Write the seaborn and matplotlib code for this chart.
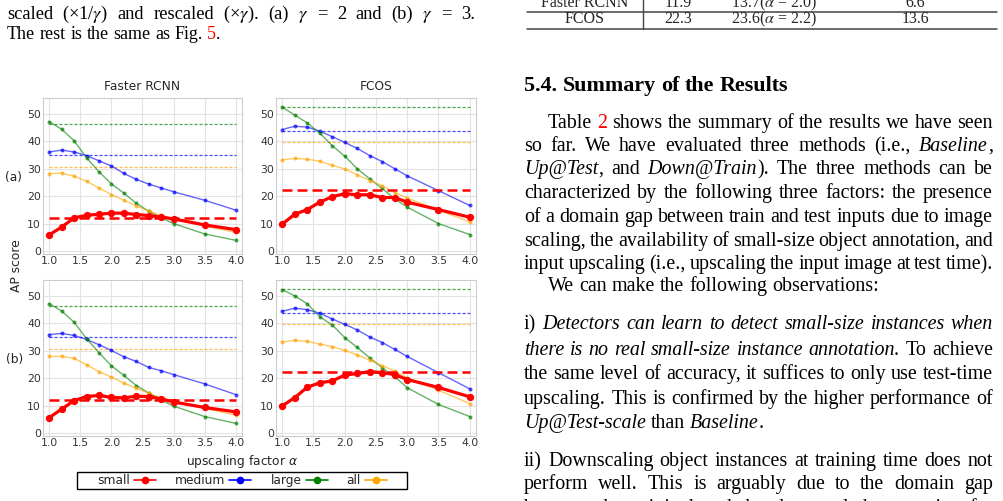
import matplotlib
matplotlib.use("Agg")
import matplotlib.pyplot as plt
import seaborn as sns
from matplotlib.lines import Line2D
from matplotlib.patches import Rectangle

# ---- data (AP score vs upscaling factor alpha) ----
alphas = [1.0, 1.2, 1.4, 1.6, 1.8, 2.0, 2.2, 2.4, 2.6, 2.8, 3.0, 3.5, 4.0]
sizes = ["small", "medium", "large", "all"]
colors = ["red", "blue", "green", "orange"]

# (a) gamma = 2
frcnn_a_small = [5.9, 8.7, 12.1, 13.0, 13.4, 13.8, 13.8, 13.3, 12.9, 12.4, 11.7, 9.5, 7.8]
frcnn_a_medium = [36.1, 36.8, 36.1, 34.8, 32.9, 31.0, 28.3, 26.1, 24.4, 23.0, 21.6, 18.5, 14.9]
frcnn_a_large = [47.2, 44.4, 40.2, 34.0, 28.9, 24.5, 21.1, 17.4, 14.5, 12.1, 10.0, 6.2, 3.9]
frcnn_a_all = [28.2, 28.4, 27.3, 25.4, 23.0, 20.6, 18.5, 16.5, 14.6, 13.0, 11.5, 9.1, 6.8]

fcos_a_small = [9.8, 13.4, 15.1, 17.8, 19.8, 20.9, 20.5, 20.5, 19.5, 19.5, 17.8, 15.1, 12.3]
fcos_a_medium = [44.3, 45.5, 45.2, 43.7, 41.7, 39.6, 37.4, 34.8, 32.6, 30.0, 27.4, 22.0, 16.6]
fcos_a_large = [52.4, 49.6, 46.7, 43.0, 38.4, 34.6, 30.0, 26.3, 22.8, 19.0, 16.0, 10.0, 6.0]
fcos_a_all = [33.2, 33.8, 33.5, 32.7, 31.3, 29.9, 27.8, 25.7, 23.8, 21.3, 19.3, 14.9, 10.6]

# (b) gamma = 3
frcnn_b_small = [5.6, 8.7, 11.8, 13.3, 13.7, 13.0, 12.8, 13.4, 13.3, 12.4, 11.3, 9.3, 7.7]
frcnn_b_medium = [35.9, 36.3, 35.6, 34.1, 32.2, 30.1, 27.8, 26.1, 23.9, 22.7, 21.3, 17.9, 14.0]
frcnn_b_large = [47.2, 44.5, 40.4, 34.4, 29.3, 24.5, 21.0, 17.3, 14.6, 12.0, 9.8, 6.0, 3.5]
frcnn_b_all = [27.9, 28.0, 27.2, 24.9, 22.4, 20.4, 18.2, 16.3, 14.5, 12.9, 11.8, 9.0, 6.5]

fcos_b_small = [9.9, 12.9, 16.7, 18.3, 19.0, 21.1, 21.7, 22.4, 22.0, 21.3, 19.5, 16.6, 13.2]
fcos_b_medium = [44.4, 45.5, 45.0, 43.7, 41.6, 39.6, 37.6, 35.0, 33.0, 30.5, 27.9, 22.0, 16.1]
fcos_b_large = [52.3, 50.0, 47.1, 42.4, 39.4, 34.8, 31.2, 27.4, 23.8, 20.5, 16.5, 10.4, 6.0]
fcos_b_all = [33.2, 33.8, 33.4, 32.4, 31.5, 30.1, 28.5, 26.6, 24.6, 22.6, 20.1, 15.6, 10.7]

# baselines (no upscaling), small / medium / large / all
frcnn_base = [11.9, 35.0, 46.3, 30.6]
fcos_base = [22.3, 43.8, 52.6, 39.9]

xtick_vals = [1.0, 1.5, 2.0, 2.5, 3.0, 3.5, 4.0]
ytick_vals = [0, 10, 20, 30, 40, 50]

panels = [
    ("Faster RCNN", [frcnn_a_small, frcnn_a_medium, frcnn_a_large, frcnn_a_all], frcnn_base),
    ("FCOS", [fcos_a_small, fcos_a_medium, fcos_a_large, fcos_a_all], fcos_base),
    ("", [frcnn_b_small, frcnn_b_medium, frcnn_b_large, frcnn_b_all], frcnn_base),
    ("", [fcos_b_small, fcos_b_medium, fcos_b_large, fcos_b_all], fcos_base),
]

sns.set_style("whitegrid", {"axes.edgecolor": "#cccccc", "grid.color": "#e3e3e3"})
plt.rcParams["font.family"] = ["DejaVu Sans"]

W, H = 1004, 501
fig = plt.figure(figsize=(W / 100, H / 100), dpi=100)


def fx(px):
    return px / W


def fy(py):
    return 1 - py / H


boxes = [(43, 98, 199, 156), (276, 98, 200, 156), (43, 280, 199, 156), (276, 280, 200, 156)]
for (title, series, base), (l, t, w, h) in zip(panels, boxes):
    ax = fig.add_axes([fx(l), fy(t + h), w / W, h / H])
    for i, (vals, col) in enumerate(zip(series, colors)):
        if i == 0:
            sns.lineplot(x=alphas, y=vals, color=col, lw=2.3, marker="o", ms=4.5,
                         mec=col, ax=ax, zorder=5)
            sns.lineplot(x=[alphas[0], alphas[-1]], y=[base[i]] * 2, color=col, lw=1.8,
                         dashes=(4, 2), ax=ax, zorder=4)
        else:
            sns.lineplot(x=alphas, y=vals, color=col, lw=1.0, marker="o", ms=2.2,
                         mec=col, alpha=0.6, ax=ax, zorder=3)
            l2 = sns.lineplot(x=[alphas[0], alphas[-1]], y=[base[i]] * 2, color=col, lw=0.9,
                              alpha=0.7, ax=ax, zorder=2)
            l2.lines[-1].set_dashes((2.5, 1.5))
    ax.set_xlim(0.9, 4.1)
    ax.set_ylim(-1.1, 55.8)
    ax.set_xticks(xtick_vals)
    ax.set_xticklabels([f"{v:.1f}" for v in xtick_vals])
    ax.set_yticks(ytick_vals)
    ax.tick_params(labelsize=7.8, pad=1.5, colors="#333333", length=0)
    ax.grid(True, lw=0.8)
    for sp in ax.spines.values():
        sp.set_linewidth(0.8)
    if title:
        ax.set_title(title, fontsize=8.8, pad=6)

fig.text(fx(13), fy(177), "(a)", fontsize=8.8, ha="center", va="center")
fig.text(fx(15), fy(360), "(b)", fontsize=8.8, ha="center", va="center")
fig.text(fx(17), fy(266), "AP score", fontsize=8.8, rotation=90, ha="center", va="center")
fig.text(fx(242), fy(461), r"upscaling factor $\alpha$", fontsize=8.8, ha="center", va="center")

handles = [Line2D([], [], color=c, marker="o", ms=4.5, lw=1.2) for c in colors]
fig.legend(handles, sizes, loc="center", bbox_to_anchor=(fx(242), fy(480.5)), ncol=4,
           markerfirst=False, fontsize=8.8, frameon=False, handlelength=1.8,
           handletextpad=0.35, columnspacing=1.55, borderpad=0.1)
fig.add_artist(Rectangle((fx(77), fy(489)), 330 / W, 17 / H, transform=fig.transFigure,
                         fill=False, edgecolor="black", lw=1.0))

# ---- surrounding page text ----
renderer = fig.canvas.get_renderer()
SERIF = "Liberation Serif"


def draw_line(x0, yc, line, width=None, fs=14.4, weight="normal"):
    words = []
    ital, red = False, False
    for raw in line.split():
        pieces, buf = [], ""
        for ch in raw:
            if ch in "*{}":
                if buf:
                    pieces.append((buf, ital, red))
                    buf = ""
                if ch == "*":
                    ital = not ital
                else:
                    red = ch == "{"
            else:
                buf += ch
        if buf:
            pieces.append((buf, ital, red))
        words.append(pieces)
    items, widths = [], []
    for pieces in words:
        ww = 0
        arts = []
        for txt, it, rd in pieces:
            a = fig.text(0, 0, txt, fontsize=fs, family=SERIF, weight=weight,
                         style="italic" if it else "normal", color="red" if rd else "black",
                         va="baseline", ha="left", math_fontfamily="stix")
            bw = a.get_window_extent(renderer).width
            arts.append((a, ww))
            ww += bw
        items.append(arts)
        widths.append(ww)
    space = fs * 100 / 72 * 0.25
    if width is not None and len(words) > 1:
        gap = (width - sum(widths)) / (len(words) - 1)
    else:
        gap = space
    x = x0
    base = yc + fs * 100 / 72 * 0.3
    for arts, ww in zip(items, widths):
        for a, off in arts:
            a.set_position((fx(x + off), fy(base)))
        x += ww + gap


# left column (end of previous caption)
draw_line(7, 13, r"scaled (×1/$\gamma$) and rescaled (×$\gamma$).  (a) $\gamma$ = 2 and (b) $\gamma$ = 3.",
          width=468, fs=13.3)
draw_line(7, 34, "The rest is the same as Fig. {5}.", fs=13.0)

# table tail (right column)
for yc, row in [(3, ["Faster RCNN", "11.9", r"13.7($\alpha$ = 2.0)", "6.6"]),
                (19, ["FCOS", "22.3", r"23.6($\alpha$ = 2.2)", "13.6"])]:
    for cx, cell in zip([585, 678, 774, 915], row):
        fig.text(fx(cx), fy(yc + 4), cell, fontsize=11.5, family=SERIF, ha="center",
                 va="baseline", math_fontfamily="stix")
for yl in [12, 29]:
    fig.add_artist(Line2D([fx(527), fx(997)], [fy(yl), fy(yl)], color="#444444", lw=1.1))
fig.add_artist(Line2D([fx(643), fx(643)], [fy(0), fy(29)], color="#444444", lw=1.0))

draw_line(524, 84, "5.4. Summary of the Results", fs=15.8, weight="bold")

body = [
    (548, 122, "Table {2} shows the summary of the results we have seen", True),
    (524, 145, "so far.  We have evaluated three methods (i.e., *Baseline*,", True),
    (524, 168, "*Up@Test*, and *Down@Train*).  The three methods can be", True),
    (524, 192, "characterized by the following three factors: the presence", True),
    (524, 216, "of a domain gap between train and test inputs due to image", True),
    (524, 240, "scaling, the availability of small-size object annotation, and", True),
    (524, 263, "input upscaling (i.e., upscaling the input image at test time).", True),
    (548, 285, "We can make the following observations:", False),
    (524, 323, "i) *Detectors can learn to detect small-size instances when*", True),
    (524, 349, "*there is no real small-size instance annotation.* To achieve", True),
    (524, 373, "the same level of accuracy, it suffices to only use test-time", True),
    (524, 398, "upscaling.  This is confirmed by the higher performance of", True),
    (524, 422, "*Up@Test-scale* than *Baseline*.", False),
    (524, 460, "ii) Downscaling object instances at training time does not", True),
    (524, 483, "perform well.  This is arguably due to the domain gap", True),
    (524, 507, "between the original and the downscaled annotation for", True),
]
for x0, yc, txt, just in body:
    draw_line(x0, yc, txt, width=(993 - x0) if just else None)

fig.savefig("out.png", dpi=100)
